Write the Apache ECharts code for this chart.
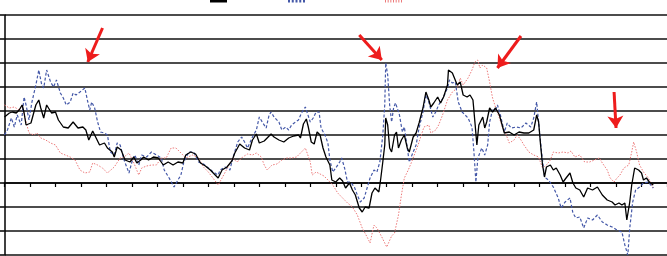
<!DOCTYPE html>
<html><head><meta charset="utf-8">
<script src="https://cdn.jsdelivr.net/npm/echarts@6/dist/echarts.min.js"></script>
<style>html,body{margin:0;padding:0;background:#fff}#c{width:667px;height:256px}</style>
</head><body><div id="c"></div>
<script>
// x = time index, y = value (arbitrary units; gridline step 24)
const seriesNames = ['Series 1', 'Series 2', 'Series 3'];
const blackSeries = [[0,66],[5,70],[8,71],[12,70],[15,73],[18,78],[20,70],[22,58],[27,60],[32,78],[35,83],[37,75],[40,65],[43,78],[48,70],[52,71],[55,63],[60,56],[65,55],[70,61],[75,55],[80,56],[83,53],[86,43],[90,52],[93,46],[97,38],[102,40],[105,35],[110,31],[112,26],[115,36],[119,33],[123,23],[128,21],[132,26],[135,20],[139,23],[142,26],[147,23],[152,26],[157,25],[162,18],[167,21],[172,18],[177,21],[182,20],[185,28],[190,31],[195,29],[200,20],[205,17],[210,13],[215,8],[218,5],[222,13],[227,16],[232,22],[235,30],[240,39],[245,35],[250,33],[253,43],[257,49],[260,40],[265,42],[268,45],[272,49],[275,46],[280,43],[285,41],[290,45],[295,47],[300,48],[302,45],[305,59],[308,64],[310,56],[313,41],[316,39],[319,51],[322,48],[325,35],[328,26],[332,18],[334,3],[338,1],[342,5],[345,2],[348,-5],[352,0],[355,-7],[358,-12],[362,-25],[365,-29],[368,-24],[372,-25],[375,-10],[378,-5],[382,-9],[384,5],[386,21],[388,38],[389,65],[391,58],[393,35],[395,31],[398,48],[400,51],[402,35],[405,43],[408,48],[411,35],[413,31],[417,46],[420,50],[423,60],[427,75],[430,91],[433,83],[435,76],[438,80],[442,86],[445,80],[448,86],[452,98],[453,113],[457,110],[459,111],[462,98],[465,101],[468,88],[472,86],[475,88],[478,83],[480,61],[482,38],[484,58],[488,66],[490,55],[492,61],[495,75],[498,71],[501,75],[505,68],[510,50],[515,51],[520,48],[525,51],[530,50],[535,50],[540,53],[543,68],[545,61],[547,38],[549,18],[551,6],[553,16],[557,18],[560,13],[563,15],[567,8],[570,1],[573,5],[577,10],[580,0],[583,-5],[587,-7],[591,-14],[595,-5],[600,-7],[605,-4],[610,-12],[615,-17],[620,-19],[623,-22],[627,-20],[630,-22],[633,-20],[635,-37],[638,-19],[640,-2],[643,15],[647,13],[650,10],[652,3],[655,5],[658,1],[662,-2]];
const blueSeries = [[0,48],[3,53],[7,65],[10,56],[13,68],[17,58],[20,86],[22,78],[25,63],[28,81],[32,98],[35,113],[38,98],[40,95],[43,113],[47,101],[50,96],[53,103],[57,90],[60,85],[63,78],[67,81],[70,90],[73,88],[77,91],[82,95],[85,81],[87,73],[89,81],[92,75],[95,61],[98,51],[102,50],[105,48],[108,31],[112,28],[115,40],[118,38],[122,23],[127,10],[130,21],[133,28],[137,18],[140,28],[145,26],[150,31],[155,28],[160,25],[163,13],[168,5],[173,-4],[177,3],[180,8],[183,21],[188,31],[193,31],[198,21],[203,19],[208,15],[213,11],[218,8],[220,13],[225,16],[230,13],[233,25],[238,41],[242,46],[245,41],[248,35],[253,46],[257,53],[260,66],[263,61],[267,55],[270,68],[272,71],[275,66],[280,61],[283,53],[287,56],[290,53],[293,58],[297,61],[300,63],[303,70],[307,76],[309,78],[312,61],[315,65],[318,71],[321,71],[323,55],[327,48],[330,40],[332,23],[335,11],[338,15],[342,21],[344,25],[347,15],[350,1],[353,1],[357,-4],[360,-12],[363,-19],[367,-15],[370,-5],[373,5],[377,13],[380,11],[383,21],[386,48],[388,78],[389,120],[391,108],[393,78],[395,61],[397,75],[399,80],[401,81],[403,68],[406,51],[408,56],[411,35],[413,21],[417,31],[420,38],[423,55],[427,71],[430,88],[433,81],[437,66],[440,71],[443,78],[448,86],[452,95],[454,103],[457,100],[460,101],[463,81],[467,71],[470,68],[473,65],[477,56],[479,31],[481,1],[483,25],[487,35],[490,28],[493,38],[495,61],[498,73],[501,73],[503,78],[506,68],[510,51],[513,60],[517,55],[522,56],[527,55],[532,60],[537,56],[540,65],[543,81],[545,61],[548,31],[551,6],[555,3],[560,-4],[565,-15],[568,-25],[572,-19],[577,-15],[580,-30],[583,-35],[587,-34],[591,-45],[595,-35],[600,-37],[605,-32],[610,-39],[615,-42],[620,-44],[625,-47],[630,-49],[633,-62],[636,-72],[638,-45],[641,-19],[644,-7],[648,-4],[652,0],[657,1],[662,-5]];
const redSeries = [[0,78],[5,75],[10,76],[15,73],[18,78],[22,61],[25,50],[30,48],[33,50],[37,45],[42,43],[47,40],[52,38],[57,30],[62,28],[67,26],[72,23],[77,13],[82,10],[87,11],[90,20],[95,18],[100,15],[105,10],[112,16],[118,25],[122,26],[127,30],[132,20],[137,8],[140,15],[145,17],[150,18],[155,18],[160,25],[165,25],[170,35],[175,35],[180,30],[185,25],[192,28],[198,25],[203,16],[208,11],[215,2],[218,-2],[222,5],[228,16],[233,25],[237,21],[240,23],[243,26],[248,29],[253,28],[257,30],[262,26],[265,18],[268,13],[273,18],[278,19],[283,23],[288,25],[293,25],[298,26],[303,31],[307,35],[309,33],[312,21],[314,8],[318,11],[322,9],[326,7],[330,3],[335,-2],[340,-10],[345,-15],[350,-20],[355,-24],[360,-32],[365,-45],[370,-54],[373,-60],[377,-42],[380,-45],[385,-54],[390,-64],[395,-53],[398,-50],[402,-32],[405,-12],[408,5],[412,13],[415,20],[422,38],[428,56],[433,58],[435,50],[440,53],[443,58],[447,68],[452,83],[457,91],[462,95],[465,105],[468,98],[473,105],[477,113],[480,121],[483,123],[485,115],[488,118],[492,115],[495,101],[498,85],[502,73],[505,65],[508,56],[512,48],[515,40],[520,43],[523,48],[527,43],[530,38],[535,31],[540,28],[545,26],[549,15],[553,18],[557,23],[560,31],[565,30],[570,31],[575,30],[578,32],[582,26],[587,28],[592,21],[597,21],[602,23],[607,25],[610,20],[615,13],[618,5],[622,1],[625,5],[628,8],[632,15],[637,18],[640,31],[642,41],[645,31],[648,18],[652,11],[657,5],[662,-5]];
// annotation arrows: [start, end] in data coordinates
const arrows = [[[100,155],[85,121]],[[362,148],[385,123]],[[527,147],[503,115]],[[622,91],[624,55]]];

const colors = ['#000000', '#4458a8', '#ec7a7a'];
function stripes(n, dash, gap) {
  let p = 'path://';
  for (let i = 0, x = 0; i < n; i++, x += dash + gap) p += 'M' + x + ',0h' + dash + 'v3h-' + dash + 'z';
  return p;
}
const legendIcons = ['path://M0,0h17v3h-17z', stripes(5, 2, 1.75), stripes(7, 1, 1.67)];
const legendPos = [210, 288, 385];

const chart = echarts.init(document.getElementById('c'), null, {renderer: 'canvas'});
chart.setOption({
  animation: false,
  backgroundColor: '#fff',
  grid: {left: 4.5, top: 15, width: 676, height: 240},
  legend: seriesNames.map((n, i) => ({
    data: [{name: n, icon: legendIcons[i], itemStyle: {color: colors[i]}}],
    left: legendPos[i], top: -5, itemWidth: 17, itemHeight: 3,
    formatter: ' ', itemGap: 0, padding: 0, selectedMode: false
  })),
  xAxis: {
    type: 'value', min: 0, max: 676, interval: 26,
    axisLine: {onZero: true, lineStyle: {color: '#000', width: 1.5}},
    axisTick: {show: true, length: 4, lineStyle: {color: '#000', width: 1.2}},
    axisLabel: {show: false}, splitLine: {show: false}
  },
  yAxis: {
    type: 'value', min: -72, max: 168, interval: 24,
    axisLine: {show: true, onZero: false, lineStyle: {color: '#000', width: 1.5}},
    axisTick: {show: true, length: 5, lineStyle: {color: '#000', width: 1.5}},
    axisLabel: {show: false},
    splitLine: {show: true, lineStyle: {color: '#111', width: 1.5}}
  },
  series: [
    {name: seriesNames[0], type: 'line', data: blackSeries, showSymbol: false, symbol: 'none', z: 4,
     lineStyle: {color: colors[0], width: 1.3}, itemStyle: {color: colors[0]},
     markLine: {silent: true, label: {show: false}, animation: false,
       lineStyle: {color: '#ee1c1c', width: 3, type: 'solid'},
       data: arrows.map(a => [
         {coord: a[0], symbol: 'none'},
         {coord: a[1], symbol: 'arrow', symbolSize: 12}
       ])}},
    {name: seriesNames[1], type: 'line', data: blueSeries, showSymbol: false, symbol: 'none', z: 3,
     lineStyle: {color: colors[1], width: 1.2, type: [3, 2]}, itemStyle: {color: colors[1]}},
    {name: seriesNames[2], type: 'line', data: redSeries, showSymbol: false, symbol: 'none', z: 2,
     lineStyle: {color: colors[2], width: 1, type: [1.5, 1.5]}, itemStyle: {color: colors[2]}}
  ]
});
</script></body></html>
